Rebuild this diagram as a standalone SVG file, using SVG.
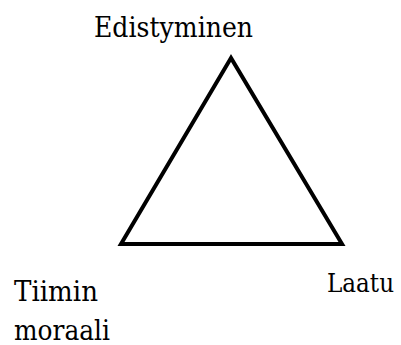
<svg xmlns="http://www.w3.org/2000/svg" width="401" height="345" viewBox="0 0 401 345">
<style>
text{font-family:'DejaVu Serif','Liberation Serif',serif;font-size:27px;fill:#000}
.edge{fill:none;stroke:#000;stroke-width:4;stroke-linejoin:miter}
</style>
<rect width="401" height="345" fill="#fff"/>
<g id="connectors">
<path class="edge" d="M231,58 L121,244 L342,244 Z"/>
</g>
<g id="edistyminen"><text x="94" y="37" textLength="159" lengthAdjust="spacingAndGlyphs">Edistyminen</text></g>
<g id="tiimin-moraali"><text x="14" y="301" textLength="84" lengthAdjust="spacingAndGlyphs">Tiimin</text><text x="14" y="340" textLength="96" lengthAdjust="spacingAndGlyphs">moraali</text></g>
<g id="laatu"><text x="327" y="292" style="font-size:25.5px" textLength="67" lengthAdjust="spacingAndGlyphs">Laatu</text></g>
</svg>
